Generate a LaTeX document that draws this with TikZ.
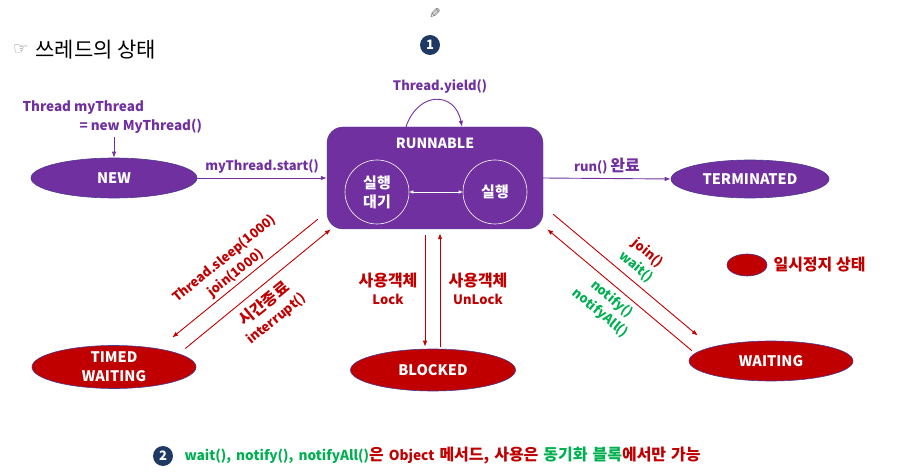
\documentclass[tikz,border=0pt]{standalone}
\usepackage{fontspec}
\setmainfont{Noto Sans CJK KR}
\newfontfamily\symfont{DejaVu Sans}
\usetikzlibrary{shapes.geometric,arrows.meta}
\definecolor{thpurple}{HTML}{7030A0}
\definecolor{thred}{HTML}{C00000}
\definecolor{thgreen}{HTML}{00B050}
\definecolor{thnavy}{HTML}{1F3864}
\definecolor{thedge}{HTML}{4B3A8F}
% Korean words are set a little larger than the Latin ones
\newcommand{\kr}[1]{{\fontsize{16}{18}\selectfont #1}}

\begin{document}
\begin{tikzpicture}[x=1pt, y=-1pt, font=\bfseries\fontsize{13}{18}\selectfont,
		state/.style={draw=thedge, line width=0.6pt, ellipse, text=white, inner sep=0pt, align=center, font=\bfseries\fontsize{14.5}{19}\selectfont},
		runstate/.style={state, fill=thpurple},
		pausestate/.style={state, fill=thred},
		inner/.style={draw=white, circle, minimum size=64pt, inner sep=0pt, text=white, line width=0.6pt, align=center, font=\bfseries\fontsize{15}{19}\selectfont},
		parr/.style={thpurple, line width=0.9pt, -{Latex[length=6pt,width=4.5pt]}},
		rarr/.style={thred, line width=0.9pt, -{Latex[length=6pt,width=4.5pt]}},
		badge/.style={circle, fill=thnavy, text=white, minimum size=20pt, inner sep=0pt}]
		\useasboundingbox (0,0) rectangle (913,473);
		\node[xscale=-1, text=gray!80!black, font=\symfont\fontsize{14}{14}\selectfont] (pen) at (435,14) {✎};
		\node[anchor=west, font=\fontsize{21}{24}\selectfont] (title) at (32,50) {쓰레드의 상태};
		\node[anchor=east, text=gray, font=\symfont\fontsize{17}{17}\selectfont] (hand) at (title.west) {☞};
		\node[badge] (b1) at (430,45) {1};
		
		\node[draw=thedge, fill=thpurple, rounded corners=16pt, minimum width=216pt, minimum height=102pt] (run) at (435,178) {};
		\node[text=white, font=\bfseries\fontsize{14}{18}\selectfont] (runlbl) at (435,143) {RUNNABLE};
		\node[inner] (ready) at (377,192) {실행\\대기};
		\node[inner] (exec) at (495,192) {실행};
		\draw[white, line width=0.6pt, {Latex[length=4pt,width=3.5pt]}-{Latex[length=4pt,width=3.5pt]}] (ready) -- (exec);
		\node[text=thpurple] (yieldlbl) at (440,86) {Thread.yield()};
		\draw[parr] ([xshift=-29pt]run.north) .. controls (418,91) and (455,91) .. ([xshift=27pt]run.north);
		
		\node[runstate, minimum width=166pt, minimum height=40pt] (new) at (114,178) {NEW};
		\node[anchor=west, text=thpurple, font=\bfseries\fontsize{13.5}{18}\selectfont] (decl1) at (19,108) {Thread myThread};
		\node[anchor=west, text=thpurple, font=\bfseries\fontsize{13.5}{18}\selectfont] (decl2) at (76,126) {= new MyThread()};
		\draw[parr] (new.north |- decl2.south) -- (new.north);
		\draw[parr] (new) -- (run) node[midway, above=1pt, text=thpurple] {myThread.start()};
		
		\node[runstate, minimum width=158pt, minimum height=38pt] (term) at (750,179) {TERMINATED};
		\draw[parr] (run.east) -- (term.west) node[midway, above=1pt, text=thpurple] {run() \kr{완료}};
		
		\node[pausestate, minimum width=164pt, minimum height=43pt] (timed) at (114,367) {TIMED\\WAITING};
		\node[pausestate, minimum width=165pt, minimum height=42pt] (blocked) at (433,370) {BLOCKED};
		\node[pausestate, minimum width=164pt, minimum height=40pt] (waiting) at (771,361) {WAITING};
		\node[pausestate, minimum width=40pt, minimum height=22pt] (legend) at (747,265) {};
		\node[anchor=west, text=thred] (legendlbl) at (770,265) {\kr{일시정지 상태}};
		
		\draw[rarr] ([xshift=-9pt,yshift=10pt]run.south west) -- ([yshift=14pt]timed.north east);
		\draw[rarr] ([xshift=13pt,yshift=3pt]timed.north east) -- ([xshift=4pt]run.south west);
		\node[rotate=39.4, text=thred, align=center] (sleeplbl) at (230,266) {Thread.sleep(1000)\\join(1000)};
		\node[rotate=39.4, text=thred, align=center] (intrlbl) at (270,311) {\kr{시간종료}\\interrupt()};
		
		\draw[rarr] ([xshift=-10pt,yshift=-6pt]run.south) -- ([xshift=-8pt,yshift=2pt]blocked.north);
		\draw[rarr] ([xshift=7pt,yshift=2pt]blocked.north) -- ([xshift=5pt,yshift=-4pt]run.south);
		\node[text=thred, align=center] (locklbl) at (388,289) {\kr{사용객체}\\Lock};
		\node[text=thred, align=center] (unlocklbl) at (478,289) {\kr{사용객체}\\UnLock};
		
		\draw[rarr] ([xshift=10pt,yshift=15pt]run.south east) -- ([xshift=-15pt,yshift=11pt]waiting.north west);
		\draw[rarr] ([xshift=-21pt,yshift=-4pt]waiting.north west) -- ([xshift=4pt]run.south east);
		\node[rotate=-40, align=center] (joinlbl) at (642,260) {\textcolor{thred}{join()}\\\textcolor{thgreen}{wait()}};
		\node[rotate=-40, text=thgreen, align=center] (notifylbl) at (606,306) {notify()\\notifyAll()};
		
		\node[badge] (b2) at (163,456) {2};
		\node[anchor=west, text=thred, font=\bfseries\fontsize{13.7}{18}\selectfont] (note) at (181,456) {\spaceskip=5pt plus 1pt\textcolor{thgreen}{wait(), notify(), notifyAll()}\kr{은} Object \kr{메서드, 사용은 \textcolor{thgreen}{동기화 블록}에서만 가능}};
		
		\end{tikzpicture}
\end{document}
